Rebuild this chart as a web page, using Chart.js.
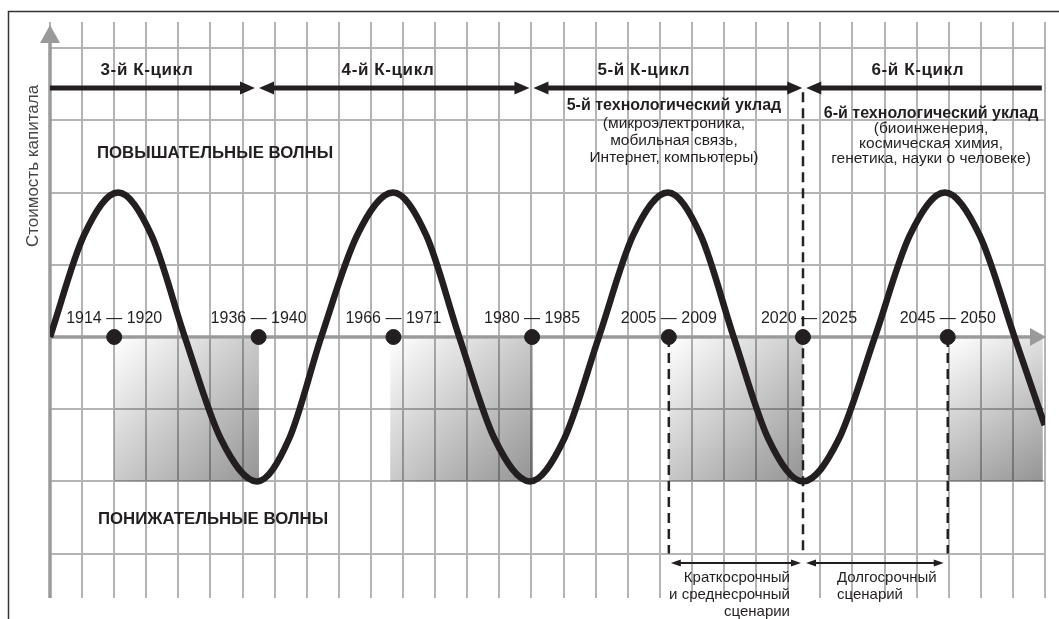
<!DOCTYPE html>
<html lang="ru">
<head>
  <meta charset="utf-8">
  <title>К-циклы</title>
  <script src="https://cdn.jsdelivr.net/npm/chart.js@4.4.0/dist/chart.umd.min.js"></script>
  <style>
    body { margin: 0; background: #fff; }
    canvas { display: block; }
  </style>
</head>
<body>
<canvas id="myChart" width="1059" height="619"></canvas>
<script>
// x in grid cells (0..31), y in grid cells (x-axis = 0)
var waveX = [0, 1.06, 2.12, 3.16, 4.2, 5.32, 6.45, 7.45, 8.45, 9.57, 10.69, 11.72, 12.75, 13.85, 14.95,
             16.02, 17.1, 18.17, 19.25, 20.27, 21.3, 22.38, 23.46, 24.58, 25.7, 26.79, 27.88, 28.96, 30.05, 30.99];
var waveY = [0, 1.41, 2, 1.41, 0, -1.41, -2, -1.41, 0, 1.41, 2, 1.41, 0, -1.41, -2,
             -1.41, 0, 1.41, 2, 1.41, 0, -1.41, -2, -1.41, 0, 1.41, 2, 1.41, 0, -1.22];

var dotX = [2, 6.5, 10.7, 15.02, 19.28, 23.46, 27.97];
var yearLabels = ["1914 — 1920", "1936 — 1940", "1966 — 1971", "1980 — 1985", "2005 — 2009", "2020 — 2025", "2045 — 2050"];

var cycleBounds = [0, 6.45, 15.0, 23.5, 30.9];
var cycleNames = ["3-й К-цикл", "4-й К-цикл", "5-й К-цикл", "6-й К-цикл"];

var shadeFrom = [2, 10.6, 19.28, 27.97];
var shadeTo = [6.51, 15.05, 23.46, 30.93];

var scenarioX = [19.28, 23.46, 27.97];

var techTitles = ["5-й технологический уклад", "6-й технологический уклад"];
var techLines = [
  ["(микроэлектроника,", "мобильная связь,", "Интернет, компьютеры)"],
  ["(биоинженерия,", "космическая химия,", "генетика, науки о человеке)"]
];

// label anchors (layout only)
var cycleLabelAt = [3.02, 10.53, 18.5, 27.04];
var techAt = [{x: 19.44, y: 3.2, step: 0.235}, {x: 27.45, y: 3.1, step: 0.205}];

var INK = "#231f20";

function txt(ctx, s, x, y, font, align, spacing) {
  ctx.font = font;
  ctx.letterSpacing = spacing || "0px";
  ctx.textAlign = align || "center";
  ctx.textBaseline = "middle";
  ctx.fillStyle = INK;
  ctx.fillText(s, x, y);
  ctx.letterSpacing = "0px";
}

function head(ctx, tipX, y, dir, len, half) {
  ctx.beginPath();
  ctx.moveTo(tipX, y);
  ctx.lineTo(tipX - dir * len, y - half);
  ctx.lineTo(tipX - dir * len, y + half);
  ctx.closePath();
  ctx.fill();
}

var deco = {
  id: "deco",
  beforeDatasetsDraw: function(chart) {
    var ctx = chart.ctx, x = chart.scales.x, y = chart.scales.y;
    ctx.save();

    // frame
    ctx.strokeStyle = "#333";
    ctx.lineWidth = 1.5;
    ctx.strokeRect(8.5, 11.5, 1200, 800);

    // shaded down-phases
    var y0 = y.getPixelForValue(0) + 2, y1 = y.getPixelForValue(-2);
    for (var i = 0; i < shadeFrom.length; i++) {
      var x0 = x.getPixelForValue(shadeFrom[i]), x1 = x.getPixelForValue(shadeTo[i]);
      var g = ctx.createLinearGradient(x0, y0, x1, y1);
      g.addColorStop(0, "rgba(0,0,0,0.0)");
      g.addColorStop(1, "rgba(0,0,0,0.42)");
      ctx.fillStyle = g;
      ctx.fillRect(x0, y0, x1 - x0, y1 - y0);
    }

    // axes
    var ax = x.getPixelForValue(0), ay = y.getPixelForValue(0);
    ctx.strokeStyle = "#9a9a9a";
    ctx.fillStyle = "#9a9a9a";
    ctx.lineWidth = 3.5;
    ctx.beginPath();
    ctx.moveTo(ax, ay); ctx.lineTo(1032, ay);
    ctx.moveTo(ax, 598); ctx.lineTo(ax, 40);
    ctx.stroke();
    head(ctx, 1046, ay, 1, 16, 9);
    ctx.beginPath();
    ctx.moveTo(ax, 25); ctx.lineTo(ax - 10, 43); ctx.lineTo(ax + 10, 43);
    ctx.closePath(); ctx.fill();

    // dashed scenario lines
    ctx.strokeStyle = "#222";
    ctx.lineWidth = 2.5;
    ctx.setLineDash([10, 6]);
    for (var k = 0; k < scenarioX.length; k++) {
      var sx = x.getPixelForValue(scenarioX[k]);
      ctx.beginPath();
      ctx.moveTo(sx, k === 1 ? y.getPixelForValue(3.39) : ay);
      ctx.lineTo(sx, y.getPixelForValue(-3));
      ctx.stroke();
    }
    ctx.setLineDash([]);
    ctx.restore();
  },
  afterDatasetsDraw: function(chart) {
    var ctx = chart.ctx, x = chart.scales.x, y = chart.scales.y;
    ctx.save();
    ctx.fillStyle = INK;
    ctx.strokeStyle = INK;

    // K-cycle arrows
    var ya = y.getPixelForValue(3.45);
    ctx.lineWidth = 5;
    for (var i = 0; i < cycleNames.length; i++) {
      var xa = x.getPixelForValue(cycleBounds[i]) + (i > 0 ? 2 : 0);
      var xb = x.getPixelForValue(cycleBounds[i + 1]) - (i < 3 ? 2 : 0);
      ctx.beginPath();
      ctx.moveTo(xa + (i > 0 ? 10 : 0), ya);
      ctx.lineTo(xb - (i < 3 ? 10 : 0), ya);
      ctx.stroke();
      if (i > 0) head(ctx, xa, ya, -1, 15, 6.5);
      if (i < 3) head(ctx, xb, ya, 1, 15, 6.5);
      txt(ctx, cycleNames[i], x.getPixelForValue(cycleLabelAt[i]), y.getPixelForValue(3.7), "bold 17px 'Liberation Sans', Arial, sans-serif", "center", "0.6px");
    }

    // technological modes
    for (var t = 0; t < techTitles.length; t++) {
      var cx = x.getPixelForValue(techAt[t].x);
      txt(ctx, techTitles[t], cx, y.getPixelForValue(techAt[t].y), "bold 16px 'Liberation Sans', Arial, sans-serif");
      for (var l = 0; l < techLines[t].length; l++) {
        txt(ctx, techLines[t][l], cx, y.getPixelForValue(techAt[t].y - techAt[t].step * (l + 1) - 0.01), "15.5px 'Liberation Sans', Arial, sans-serif");
      }
    }

    txt(ctx, "ПОВЫШАТЕЛЬНЫЕ ВОЛНЫ", 97, y.getPixelForValue(2.55), "bold 16.8px 'Liberation Sans', Arial, sans-serif", "left");
    txt(ctx, "ПОНИЖАТЕЛЬНЫЕ ВОЛНЫ", 98, y.getPixelForValue(-2.53), "bold 16.8px 'Liberation Sans', Arial, sans-serif", "left");

    // year labels
    var ay = y.getPixelForValue(0);
    for (var d = 0; d < dotX.length; d++) {
      txt(ctx, yearLabels[d], x.getPixelForValue(dotX[d]) + (d === 5 ? 6 : 0), ay - 18, "16px 'Liberation Sans', Arial, sans-serif");
    }

    // scenario arrows
    var yb = y.getPixelForValue(-3.13);
    ctx.lineWidth = 2;
    var sx = scenarioX.map(function(v) { return x.getPixelForValue(v); });
    var segs = [[sx[0] + 2, sx[1] - 2], [sx[1] + 3, sx[2] - 4]];
    segs.forEach(function(s) {
      ctx.beginPath();
      ctx.moveTo(s[0] + 8, yb); ctx.lineTo(s[1] - 8, yb);
      ctx.stroke();
      head(ctx, s[0], yb, -1, 10, 3.5);
      head(ctx, s[1], yb, 1, 10, 3.5);
    });
    var f = "15px 'Liberation Sans', Arial, sans-serif";
    txt(ctx, "Краткосрочный", 790, 578, f, "right");
    txt(ctx, "и среднесрочный", 790, 595, f, "right");
    txt(ctx, "сценарии", 790, 612, f, "right");
    txt(ctx, "Долгосрочный", 837, 578, f, "left");
    txt(ctx, "сценарий", 837, 595, f, "left");

    // y-axis title
    ctx.translate(33, 166);
    ctx.rotate(-Math.PI / 2);
    ctx.font = "17px 'Liberation Sans', Arial, sans-serif";
    ctx.textAlign = "center";
    ctx.textBaseline = "middle";
    ctx.fillStyle = "#444";
    ctx.fillText("Стоимость капитала", 0, 0);
    ctx.restore();
  }
};

new Chart("myChart", {
  type: "scatter",
  data: {
    datasets: [{
      data: waveX.map(function(v, i) { return {x: v, y: waveY[i]}; }),
      showLine: true,
      borderColor: INK,
      borderWidth: 6.5,
      pointRadius: 0,
      cubicInterpolationMode: "monotone",
      order: 2
    }, {
      data: dotX.map(function(v) { return {x: v, y: 0}; }),
      backgroundColor: INK,
      borderColor: INK,
      pointRadius: 7.5,
      order: 1
    }]
  },
  options: {
    responsive: false,
    animation: false,
    layout: {padding: {left: 50, right: 14, top: 22, bottom: 21}, autoPadding: false},
    plugins: {legend: {display: false}, tooltip: {enabled: false}},
    scales: {
      x: {
        type: "linear", min: 0, max: 31.0,
        ticks: {display: false, stepSize: 1, includeBounds: false},
        grid: {color: "#b4b4b4", lineWidth: 2, drawTicks: false},
        border: {display: false}
      },
      y: {
        min: -3.615, max: 4.363,
        ticks: {display: false, stepSize: 1, includeBounds: false},
        grid: {color: "#b4b4b4", lineWidth: 2, drawTicks: false},
        border: {display: false}
      }
    }
  },
  plugins: [deco]
});
</script>
</body>
</html>
